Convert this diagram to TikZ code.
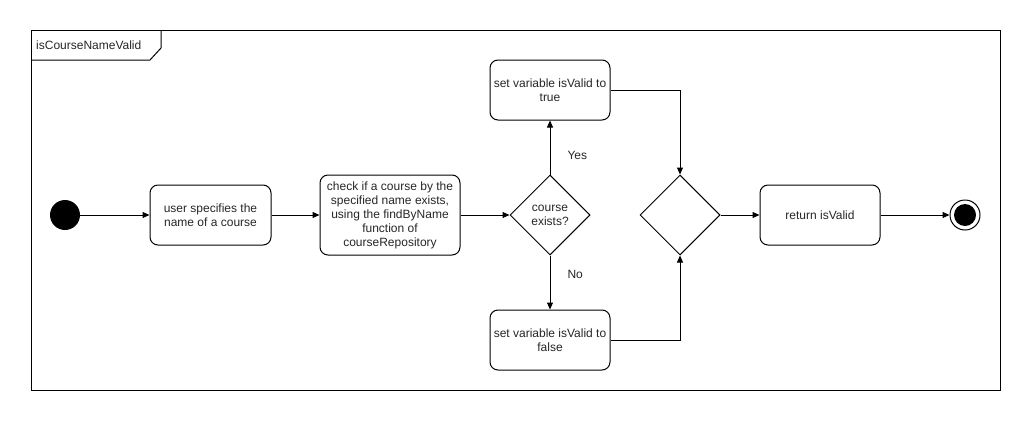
\documentclass[tikz,border=0pt]{standalone}
\usepackage{fontspec}
\setmainfont{Liberation Sans}
\usetikzlibrary{shapes.geometric,arrows.meta}
\begin{document}
\begin{tikzpicture}[x=1pt,y=-1pt,
  every node/.style={font=\fontsize{12}{14}\selectfont, text=black!85},
  action/.style={draw, rounded corners=8pt, align=center, inner sep=0pt, line width=1pt},
  decision/.style={draw, diamond, line width=1pt, minimum width=80pt, minimum height=80pt, inner sep=0pt, align=center, aspect=1},
  flow/.style={-{Triangle[length=7pt,width=6pt]}, line width=1pt},
  lbl/.style={inner sep=0pt}]
\useasboundingbox (0,0) rectangle (1031,421);
% frame with name tab
\draw[line width=1pt] (31,30) rectangle (1000,390);
\draw[line width=1pt] (31,60) -- (150,60) -- (161,48) -- (161,30);
\node[lbl, anchor=west] (title) at (36,45) {isCourseNameValid};
% nodes
\fill (65,215) circle (15);
\node[circle, minimum size=30pt, inner sep=0pt] (startn) at (65,215) {};
\node[action, minimum width=121pt, minimum height=60pt] (spec) at (210.5,215) {user specifies the\\name of a course};
\node[action, minimum width=140pt, minimum height=80pt] (check) at (390,215) {check if a course by the\\specified name exists,\\using the findByName\\function of\\courseRepository};
\node[decision] (exists) at (550,215) {course\\exists?};
\node[action, minimum width=120pt, minimum height=60pt] (valid) at (550,90) {set variable isValid to\\true};
\node[action, minimum width=120pt, minimum height=60pt] (invalid) at (550,340) {set variable isValid to\\false};
\node[decision] (merge) at (680,215) {};
\node[action, minimum width=120pt, minimum height=60pt] (ret) at (820,215) {return isValid};
\node[circle, draw, line width=1pt, minimum size=30pt, inner sep=0pt] (endn) at (965,215) {};
\fill (endn.center) circle (11);
% connectors
\draw[flow] (startn) -- (spec);
\draw[flow] (spec) -- (check);
\draw[flow] (check) -- (exists);
\draw[flow] (exists) -- node[lbl, pos=0.36, right=17pt] {Yes} (valid);
\draw[flow] (exists) -- node[lbl, pos=0.35, right=17pt] {No} (invalid);
\draw[flow] (valid.east) -| (merge.north);
\draw[flow] (invalid.east) -| (merge.south);
\draw[flow] (merge) -- (ret);
\draw[flow] (ret) -- (endn);
\end{tikzpicture}
\end{document}
